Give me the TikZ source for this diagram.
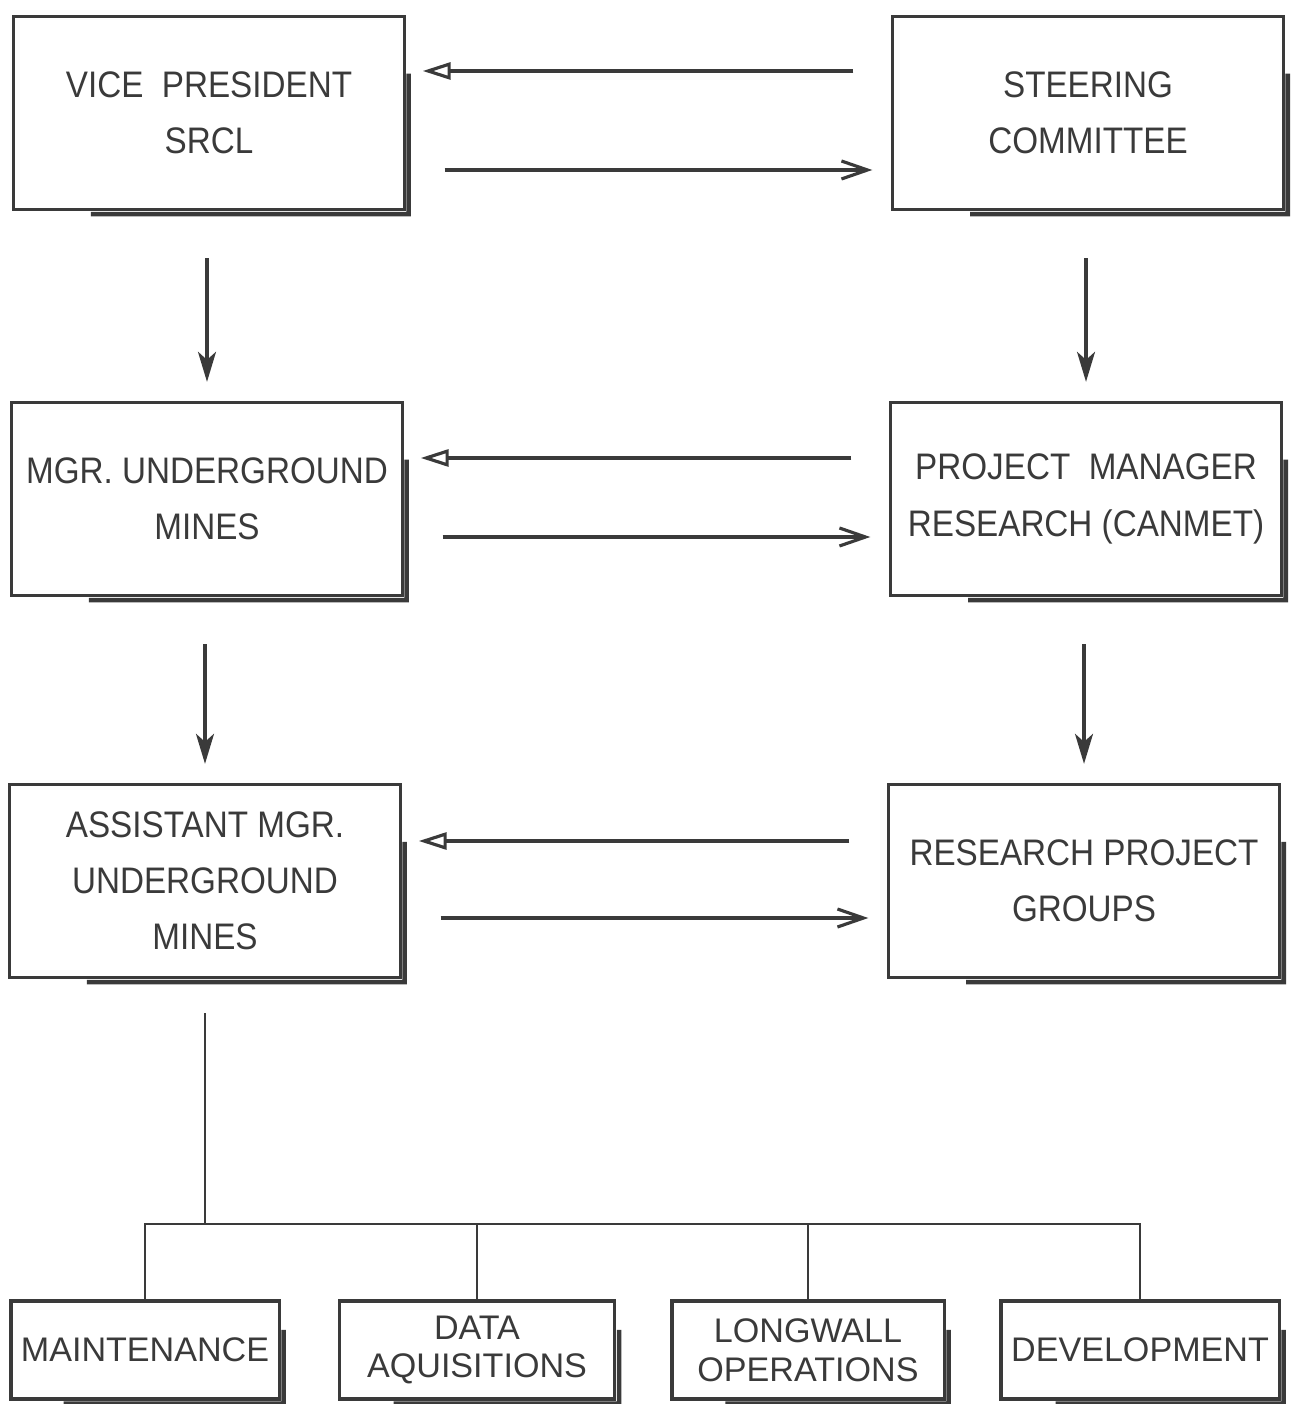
\documentclass[tikz,border=0pt]{standalone}
\usepackage{fontspec}
\setmainfont{Liberation Sans}
\newfontfamily\lettering[FakeStretch=0.9]{Liberation Sans}
\usepackage{tikz}
\usetikzlibrary{arrows.meta,calc}
\definecolor{ink}{HTML}{3A3A3A}
\tikzset{
    Unit/.style = {draw=ink,line width=0.9pt,text=ink,align=center,
        minimum width=3.9cm,minimum height=1.93cm,inner sep=1pt,
        font=\lettering\fontsize{10.5}{16}\selectfont},
    Section/.style = {Unit,minimum height=0.98cm,
        font=\fontsize{9.7}{11}\selectfont},
    Shadow/.style = {draw=ink,line width=1.3pt},
    Down/.style = {draw=ink,line width=0.9pt,
        -{Stealth[length=0.3cm,width=0.18cm,inset=0.08cm]},
        shorten <=0.47cm,shorten >=0.19cm},
    Back/.style = {draw=ink,line width=0.9pt,
        -{Triangle[open,length=0.28cm,width=0.17cm]}},
    Fwd/.style = {draw=ink,line width=0.9pt,
        -{Straight Barb[length=0.26cm,width=0.18cm]}},
    Link/.style = {draw=ink,line width=0.8pt}
}
\begin{document}
\begin{tikzpicture}[x=0.01cm,y=-0.01cm]
        \useasboundingbox (0,0) rectangle (1294,1404);
        % top and middle levels
        \node[Unit] (vp) at (209,113) {VICE~~PRESIDENT\\SRCL};
        \node[Unit] (steer) at (1088,113) {STEERING\\COMMITTEE};
        \node[Unit] (mgr) at (207,499) {MGR. UNDERGROUND\\MINES};
        \node[Unit] (pm) at (1086,499) {PROJECT~ MANAGER\\RESEARCH (CANMET)};
        \node[Unit] (asst) at (205,881) {ASSISTANT MGR.\\UNDERGROUND\\MINES};
        \node[Unit] (rpg) at (1084,881) {RESEARCH PROJECT\\GROUPS};
        % sections
        \node[Section,minimum width=2.68cm] (maint) at (145,1350) {MAINTENANCE};
        \node[Section,minimum width=2.75cm] (data) at (477,1350) {DATA\\AQUISITIONS};
        \node[Section,minimum width=2.72cm] (longw) at (808,1350) {LONGWALL\\OPERATIONS};
        \node[Section,minimum width=2.78cm] (devel) at (1140,1350) {DEVELOPMENT};
        \foreach \n in {vp,steer,mgr,pm,asst,rpg,maint,data,longw,devel}
            {\draw[Shadow] ($(\n.north east)!0.3!(\n.south east)+(3,0)$)
                -- ($(\n.south east)+(3,3)$) -- ($(\n.south west)!0.2!(\n.south east)+(0,3)$);}
        \foreach \a/\b/\u/\d in {vp/steer/-42/57,mgr/pm/-41/38,asst/rpg/-40/37}
            {\draw[Back] ($(\b.west)+(-38,\u)$) -- ($(\a.east)+(17,\u)$);
             \draw[Fwd] ($(\a.east)+(39,\d)$) -- ($(\b.west)+(-19,\d)$);}
        \foreach \a/\b in {vp/mgr,mgr/asst,steer/pm,pm/rpg}
            {\draw[Down] (\b.north |- \a.south) -- (\b.north);}
        % tree below assistant manager
        \coordinate (bus) at (204,1224);
        \draw[Link] ($(asst.south)+(0,34)$) -- (asst.south |- bus);
        \draw[Link] (maint.north) -- (maint.north |- bus) -| (devel.north);
        \draw[Link] (data.north) -- (data.north |- bus);
        \draw[Link] (longw.north) -- (longw.north |- bus);
\end{tikzpicture}
\end{document}
